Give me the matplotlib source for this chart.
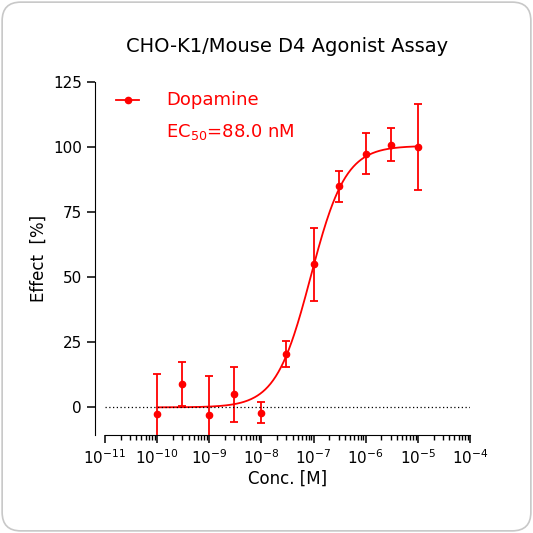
import numpy as np
import matplotlib
matplotlib.use("Agg")
import matplotlib.pyplot as plt
from matplotlib.patches import FancyBboxPatch
from matplotlib.ticker import FixedLocator, NullFormatter

conc = [1e-10, 3e-10, 1e-9, 3e-9, 1e-8, 3e-8, 1e-7, 3e-7, 1e-6, 3e-6, 1e-5]
effect = [-2.5, 9, -3, 5, -2, 20.5, 55, 85, 97.5, 101, 100]
err = [15.5, 8.5, 15, 10.5, 4, 5, 14, 6, 8, 6.5, 16.5]
ec50 = 88.0e-9
top, bottom, hill = 100.5, 0.0, 1.3
xticks = [1e-11, 1e-10, 1e-9, 1e-8, 1e-7, 1e-6, 1e-5, 1e-4]
xlabels = [r"10$^{-%d}$" % k for k in range(11, 3, -1)]

red = "#ff0000"
fig = plt.figure(figsize=(5.33, 5.33), dpi=100)
fig.patch.set_facecolor("white")
fig.patches.append(FancyBboxPatch((0.004, 0.004), 0.992, 0.992, boxstyle="round,pad=0,rounding_size=0.035",
                                  transform=fig.transFigure, fc="none", ec="#c8c8c8", lw=1.2, zorder=-10))
ax = fig.add_axes([0.197, 0.183, 0.685, 0.663])
ax.patch.set_alpha(0)
xs = np.logspace(np.log10(1e-10), np.log10(1e-5), 300)
ys = bottom + (top - bottom) / (1 + (ec50 / xs) ** hill)
ax.plot(xs, ys, color=red, lw=1.3)
ax.errorbar(conc, effect, yerr=err, fmt="o", color=red, ms=4.5, capsize=3, elinewidth=1.3, capthick=1.3)
ax.axhline(0, color="black", lw=0.9, ls=(0, (1, 2)))
ax.set_xscale("log")
ax.set_xlim(1e-11, 1e-4)
ax.set_ylim(-10.8, 125)
ax.set_yticks([0, 25, 50, 75, 100, 125])
ax.set_xticks(xticks)
ax.set_xticklabels(xlabels)
minor = [m * 10.0 ** e for e in range(-11, -4) for m in range(2, 10)]
ax.xaxis.set_minor_locator(FixedLocator(minor))
ax.xaxis.set_minor_formatter(NullFormatter())
for s in ["top", "right"]:
    ax.spines[s].set_visible(False)
ax.spines["left"].set_position(("outward", 7))
ax.tick_params(axis="both", which="major", length=6, width=1.1, labelsize=11)
ax.tick_params(axis="x", which="minor", length=3.5, width=1)
ax.set_xlabel("Conc. [M]", fontsize=12, labelpad=2)
ax.set_ylabel("Effect  [%]", fontsize=12)
ax.set_title("CHO-K1/Mouse D4 Agonist Assay", fontsize=14, pad=22)
ax.plot([1.6e-11, 4.5e-11], [118, 118], color=red, lw=1.3)
ax.plot([2.7e-11], [118], "o", color=red, ms=4.5)
ax.text(1.5e-10, 118, "Dopamine", color=red, fontsize=13, va="center")
ax.text(1.5e-10, 106, r"EC$_{50}$=88.0 nM", color=red, fontsize=13, va="center")
fig.savefig("out.png", dpi=100)
